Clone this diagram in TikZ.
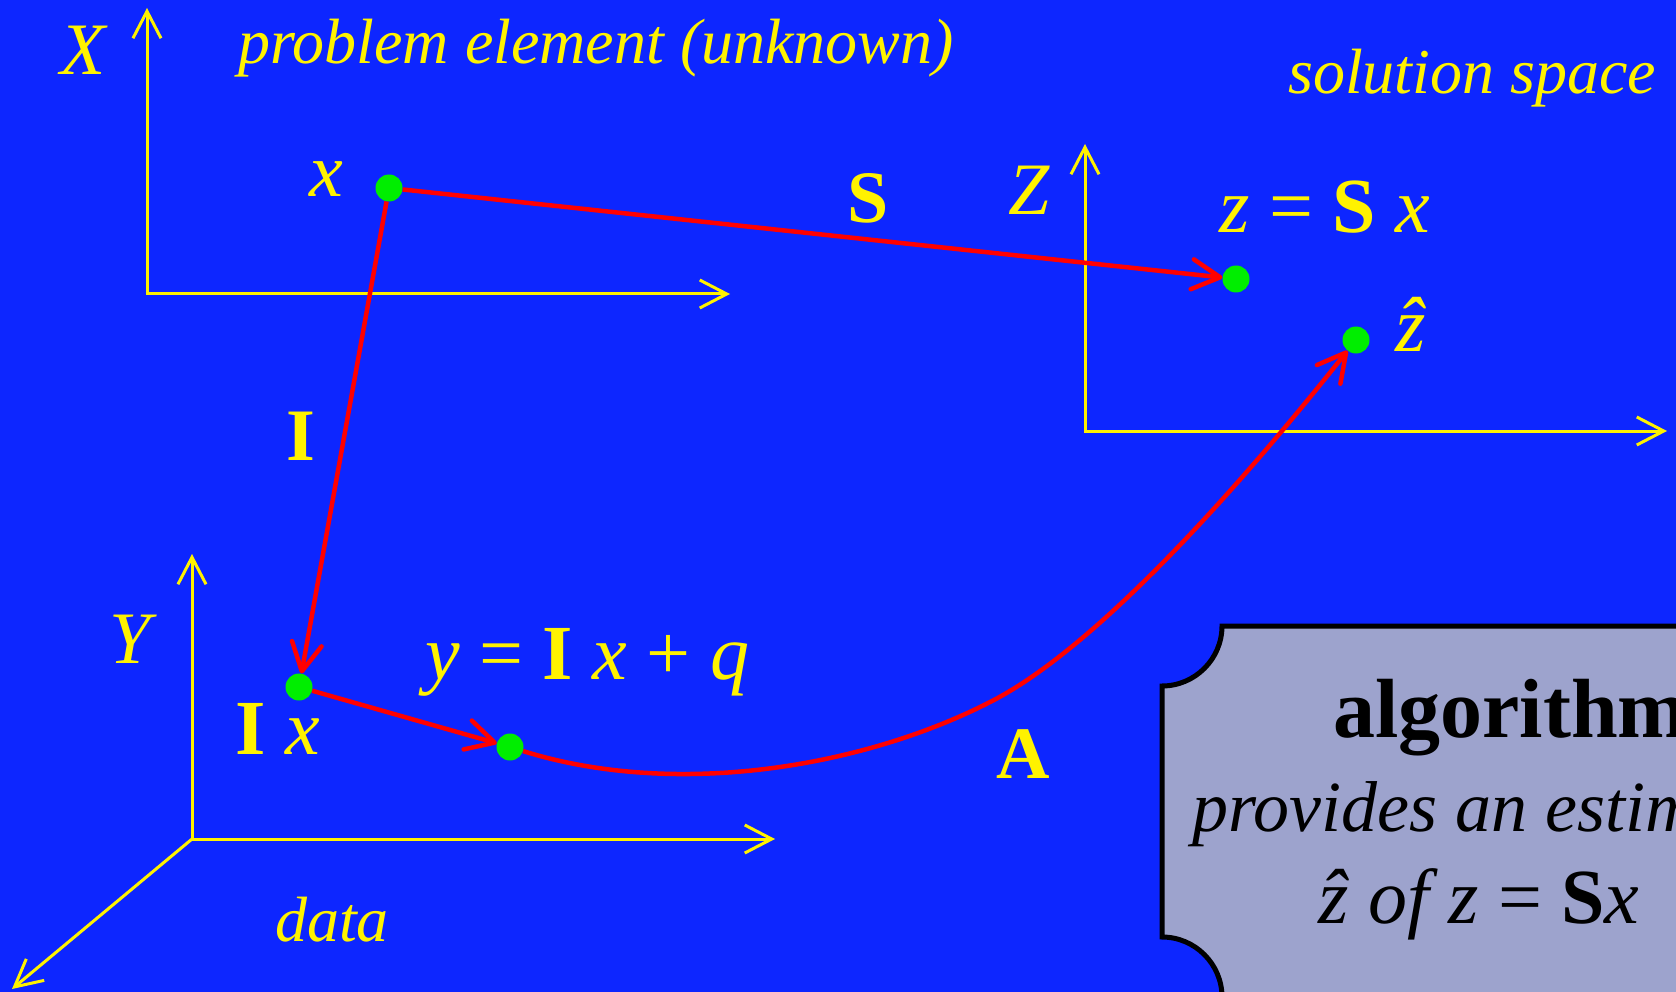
\documentclass[tikz,border=0pt]{standalone}
\usepackage{fontspec}
\setmainfont{Liberation Serif}
\usetikzlibrary{arrows.meta}
\definecolor{bgblue}{RGB}{13,38,255}
\definecolor{dotgreen}{RGB}{0,238,0}
\definecolor{boxfill}{RGB}{157,163,205}

\begin{document}
\begin{tikzpicture}[x=1pt,y=-1pt,
  axis/.style={draw=yellow,line width=3pt},
  ytip/.tip={Straight Barb[length=27pt,width=28pt]},
  map/.style={draw=red,line width=4.5pt,-{Straight Barb[length=28pt,width=30pt,round]}},
  dot/.style={circle,fill=dotgreen,inner sep=0pt,minimum size=27pt},
  lbl/.style={text=yellow,inner sep=0pt,font=\fontsize{72}{80}\selectfont},
  eqn/.style={text=yellow,inner sep=0pt,font=\fontsize{78}{84}\selectfont},
  captxt/.style={text=yellow,inner sep=0pt,font=\fontsize{64}{72}\selectfont\itshape},
  boxtxt/.style={text=black,inner sep=0pt,font=\fontsize{72}{80}\selectfont}]
\useasboundingbox (0,0) rectangle (1676,992);
\fill[bgblue] (0,0) rectangle (1676,992);
\clip (0,0) rectangle (1676,992);
% axes
\coordinate (Xo) at (147,294);
\coordinate (Xtop) at (147,8);
\coordinate (Xright) at (730,294);
\coordinate (Zo) at (1085,431);
\coordinate (Ztop) at (1085,144);
\coordinate (Zright) at (1667,431);
\coordinate (Yo) at (192,839);
\coordinate (Ytop) at (192,554);
\coordinate (Yright) at (775,839);
\coordinate (Ydiag) at (12,989);
\draw[axis,ytip-ytip] (Xtop)--(Xo)--(Xright);
\draw[axis,ytip-ytip] (Ztop)--(Zo)--(Zright);
\draw[axis,ytip-ytip] (Ytop)--(Yo)--(Yright);
\draw[axis,-ytip] (Yo)--(Ydiag);
% algorithm box
\draw[fill=boxfill,line width=5pt] (1222,626)--(1700,626)--(1700,997)--(1222,997)
  .. controls (1222,964) and (1195,937) .. (1162,937)--(1162,686)
  .. controls (1195,686) and (1222,659) .. (1222,626)--cycle;
\node[boxtxt,anchor=base west,font=\fontsize{84}{90}\selectfont\bfseries] (alg) at (1333,737) {algorithm};
\node[boxtxt,anchor=base west,font=\fontsize{72}{80}\selectfont\itshape] (prov) at (1192,831) {provides an estimate};
\node[boxtxt,anchor=base west,font=\fontsize{78}{84}\selectfont] (est) at (1318,923) {\itshape\^{z} of z {\upshape=} {\bfseries\upshape S}x};
% points
\node[dot] (px) at (389,188) {};
\node[dot] (pz) at (1236,279) {};
\node[dot] (pzh) at (1356,340) {};
\node[dot] (pix) at (299,687) {};
\node[dot] (py) at (510,747) {};
\coordinate (bend) at (994,700);
% maps
\draw[map] (px)--(pz);
\draw[map] (px)--(pix);
\draw[map] (pix)--(py);
\draw[map] (py) .. controls (680,800) and (870,765) .. (bend)
  .. controls (1108,640) and (1259,462) .. (pzh);
% labels
\node[lbl,font=\fontsize{74}{80}\selectfont\itshape] (lX) at (83,50) {X};
\node[lbl,font=\fontsize{74}{80}\selectfont\itshape] (lY) at (130,639) {Y};
\node[lbl,font=\fontsize{74}{80}\selectfont\itshape] (lZ) at (1029,190) {Z};
\node[captxt,anchor=base west] (tprob) at (238,64) {problem element (unknown)};
\node[captxt,anchor=base west] (tsol) at (1288,94) {solution space};
\node[captxt,anchor=base west] (tdata) at (275,941) {data};
\node[lbl,font=\fontsize{76}{80}\selectfont\itshape] (lx) at (326,179) {x};
\node[lbl,font=\fontsize{74}{80}\selectfont\bfseries] (lS) at (868,198) {S};
\node[lbl,font=\fontsize{74}{80}\selectfont\bfseries] (lI) at (301,436) {I};
\node[lbl,font=\fontsize{74}{80}\selectfont\bfseries] (lA) at (1023,754) {A};
\node[eqn,anchor=base west] (lz) at (1219,233) {\itshape z {\upshape=} {\upshape\bfseries S} x};
\node[eqn,anchor=base west] (lzh) at (1395,351) {\itshape\^{z}};
\node[eqn,anchor=base west] (lix) at (235,754) {{\bfseries I} \itshape x};
\node[eqn,anchor=base west] (ly) at (425,679) {\itshape y {\upshape=} {\upshape\bfseries I} x {\upshape+} q};
\end{tikzpicture}
\end{document}
